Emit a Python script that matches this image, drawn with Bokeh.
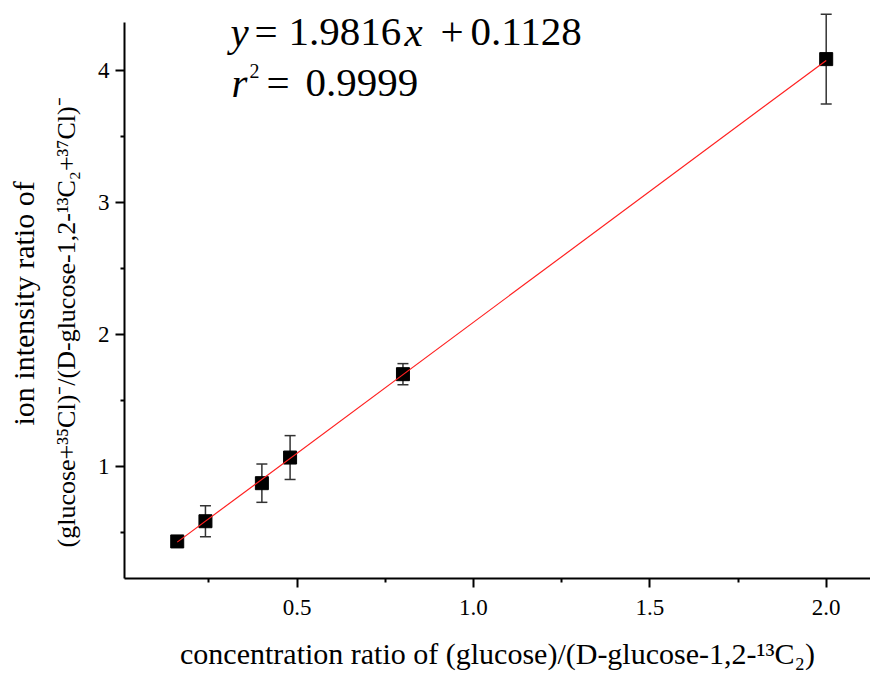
import math
from bokeh.plotting import figure
from bokeh.models import (ColumnDataSource, Range1d, FixedTicker, NumeralTickFormatter,
                          Whisker, TeeHead, Label, Title)
from bokeh.embed import file_html
from bokeh.resources import INLINE

# ---- data ----
conc_ratio = [0.16, 0.24, 0.40, 0.48, 0.80, 2.00]
ion_ratio = [0.435, 0.588, 0.876, 1.070, 1.701, 4.086]
ion_err = [0.02, 0.117, 0.145, 0.166, 0.080, 0.339]
fit_slope = 1.9816
fit_intercept = 0.1128
x_ticks = [0.5, 1.0, 1.5, 2.0]
x_minor = [0.25, 0.75, 1.25, 1.75]
y_ticks = [1, 2, 3, 4]
y_minor = [0.5, 1.5, 2.5, 3.5]

FONT = "Liberation Serif"

src = ColumnDataSource(dict(
    x=conc_ratio, y=ion_ratio,
    lower=[v - e for v, e in zip(ion_ratio, ion_err)],
    upper=[v + e for v, e in zip(ion_ratio, ion_err)],
))
fit_x = [min(conc_ratio), max(conc_ratio)]
fit_src = ColumnDataSource(dict(x=fit_x, y=[fit_slope * v + fit_intercept for v in fit_x]))

p = figure(width=870, height=680, output_backend="svg", toolbar_location=None,
           x_range=Range1d(0.0105, 2.1256), y_range=Range1d(0.1544, 4.454),
           min_border_left=124, min_border_right=0, min_border_top=10, min_border_bottom=102)
p.outline_line_color = None
p.grid.visible = False
p.background_fill_color = "white"
p.border_fill_color = "white"

# error bars
eb = Whisker(base="x", lower="lower", upper="upper", source=src,
             line_color="#333333", line_width=1.5,
             upper_head=TeeHead(size=11, line_color="#333333", line_width=1.5),
             lower_head=TeeHead(size=11, line_color="#333333", line_width=1.5))
p.add_layout(eb)

p.scatter("x", "y", source=src, marker="square", size=13, fill_color="black", line_color="black")
p.line("x", "y", source=fit_src, line_color="#ff2020", line_width=1.2)

# axes
for ax in (p.xaxis[0], p.yaxis[0]):
    ax.axis_line_width = 2
    ax.major_tick_line_width = 2
    ax.minor_tick_line_width = 2
    ax.major_tick_out = 9
    ax.major_tick_in = 0
    ax.minor_tick_out = 4
    ax.minor_tick_in = 0
    ax.major_label_text_font = FONT
    ax.major_label_text_font_size = "23px"
    ax.major_label_text_color = "black"
    ax.axis_label_text_font = FONT
    ax.axis_label_text_font_style = "normal"
    ax.axis_label_text_font_size = "30px"
    ax.axis_label_text_color = "black"

p.xaxis.ticker = FixedTicker(ticks=x_ticks, minor_ticks=x_minor)
p.xaxis.formatter = NumeralTickFormatter(format="0.0")
p.xaxis.major_label_standoff = 12
p.xaxis.axis_label = "concentration ratio of (glucose)/(D-glucose-1,2-\u00b9\u00b3C\u2082)"
p.xaxis.axis_label_standoff = 19

p.yaxis.ticker = FixedTicker(ticks=y_ticks, minor_ticks=y_minor)
p.yaxis.formatter = NumeralTickFormatter(format="0")
p.yaxis.major_label_standoff = 6
p.yaxis.bounds = (0.1544, 4.36)

# y axis title (two lines, as side titles)
ytitle2 = Title(text="(glucose+\u00b3\u2075Cl)\u207b/(D-glucose-1,2-\u00b9\u00b3C\u2082+\u00b3\u2077Cl)\u207b",
                align="left", offset=31, vertical_align="top", text_font=FONT, text_font_size="26px",
                text_font_style="normal", text_color="black", standoff=24)
ytitle1 = Title(text="ion intensity ratio of", align="left", offset=153,
                text_font=FONT, text_font_size="30px", text_font_style="normal",
                text_color="black", standoff=0)
p.add_layout(ytitle2, "left")
p.add_layout(ytitle1, "left")

# equation text
EQ = "41px"
def lab(x, y, t, style="normal", size=EQ):
    return Label(x=x, y=y, x_units="screen", y_units="screen", text=t, text_font=FONT,
                 text_font_size=size, text_font_style=style, text_color="black",
                 text_baseline="alphabetic", text_align="left")

line1 = 547
line2 = 496
for l in [lab(106, line1, "y", "italic"),
          lab(130, line1, "="),
          lab(164, line1, "1.9816"),
          lab(280, line1, "x", "italic"),
          lab(316, line1, "+"),
          lab(346, line1, "0.1128"),
          lab(107, line2, "r", "italic"),
          lab(125, line2 + 12, "2", "normal", "20px"),
          lab(142, line2, "="),
          lab(181, line2, "0.9999")]:
    p.add_layout(l)

open("out.html", "w").write(file_html(p, INLINE))
